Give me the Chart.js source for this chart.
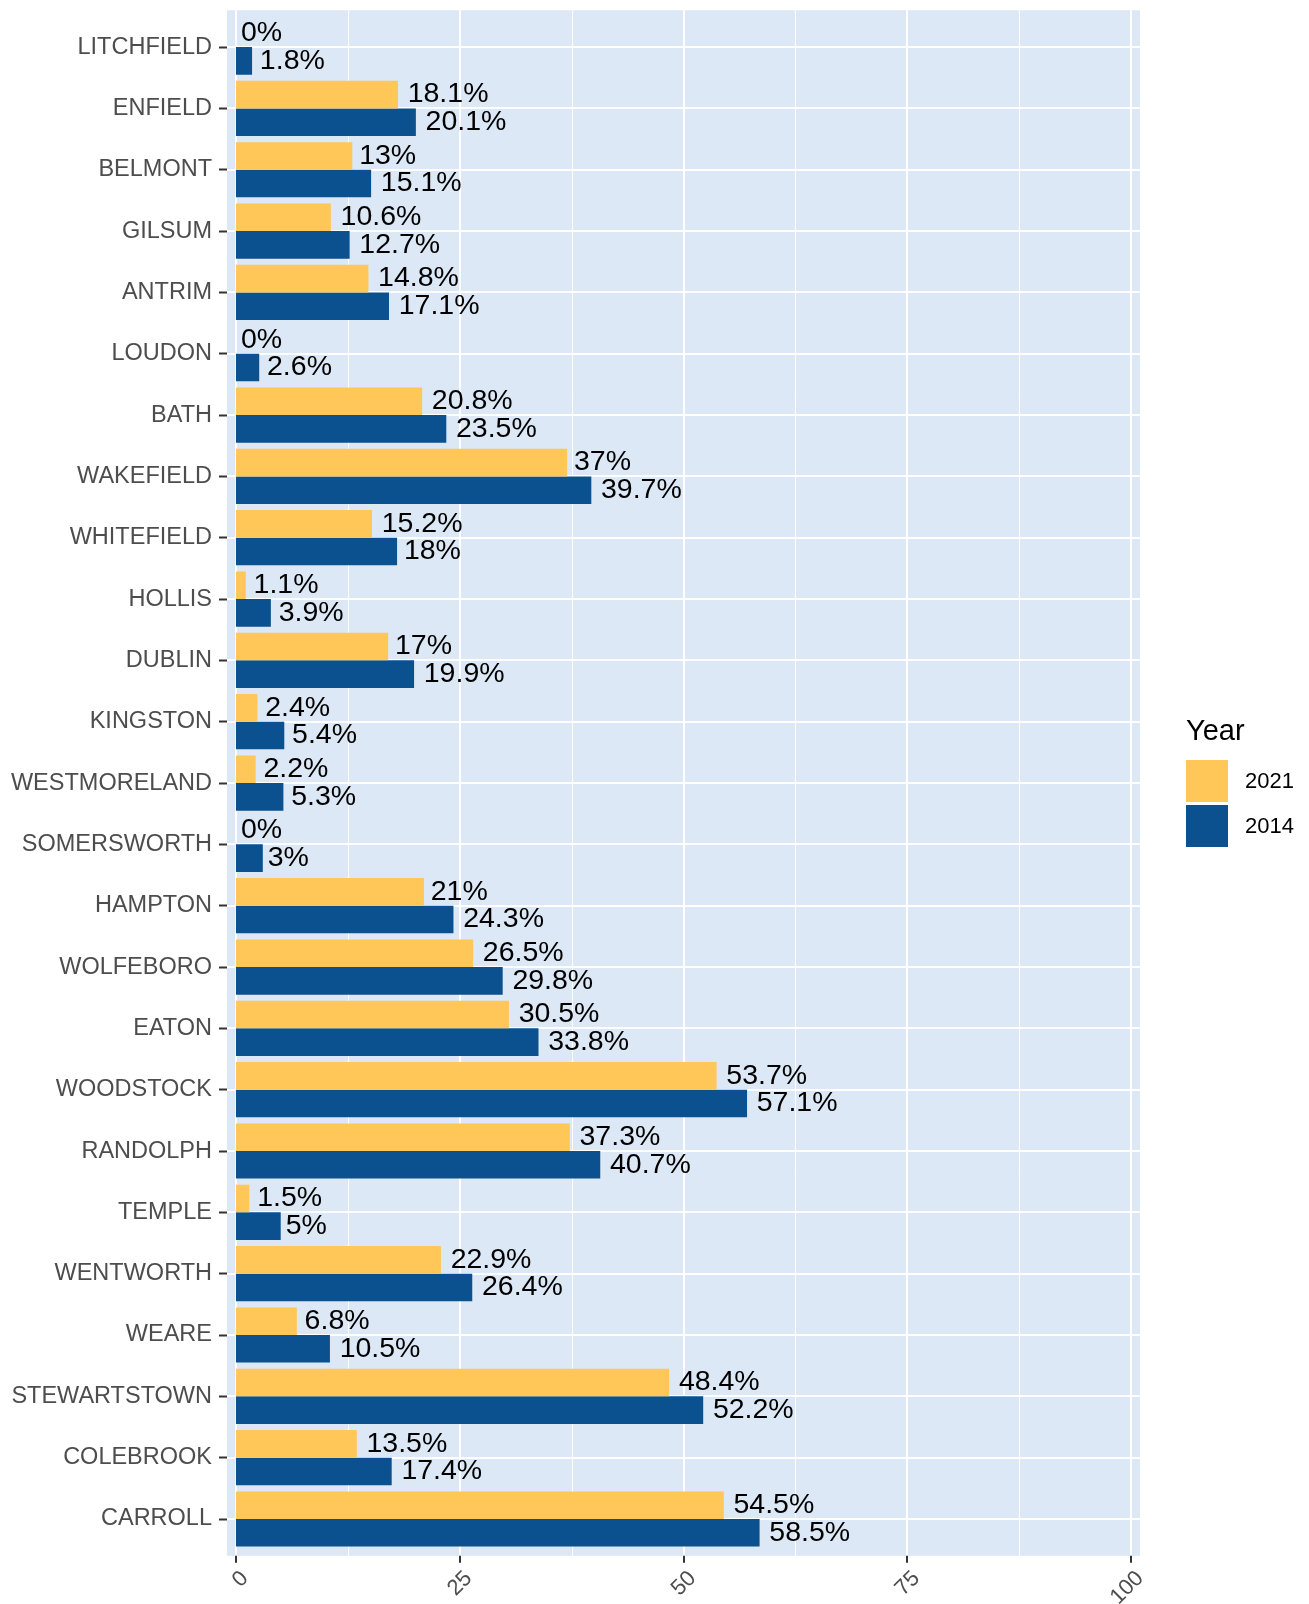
<!DOCTYPE html>
<html>
<head>
<meta charset="utf-8">
<script src="https://cdn.jsdelivr.net/npm/chart.js@4.4.1/dist/chart.umd.min.js"></script>
<style>
  html, body { margin: 0; padding: 0; background: #ffffff; }
  #wrap { position: relative; width: 1309px; height: 1604px; }
</style>
</head>
<body>
<div id="wrap"><canvas id="townChart"></canvas></div>
<script>
// Towns, top to bottom
const categories = [
    'LITCHFIELD', 'ENFIELD', 'BELMONT', 'GILSUM', 'ANTRIM', 'LOUDON', 'BATH',
    'WAKEFIELD', 'WHITEFIELD', 'HOLLIS', 'DUBLIN', 'KINGSTON', 'WESTMORELAND',
    'SOMERSWORTH', 'HAMPTON', 'WOLFEBORO', 'EATON', 'WOODSTOCK', 'RANDOLPH',
    'TEMPLE', 'WENTWORTH', 'WEARE', 'STEWARTSTOWN', 'COLEBROOK', 'CARROLL'
];

const values2021 = [
    0, 18.1, 13, 10.6, 14.8, 0, 20.8, 37, 15.2, 1.1, 17, 2.4, 2.2,
    0, 21, 26.5, 30.5, 53.7, 37.3, 1.5, 22.9, 6.8, 48.4, 13.5, 54.5
];

const values2014 = [
    1.8, 20.1, 15.1, 12.7, 17.1, 2.6, 23.5, 39.7, 18, 3.9, 19.9, 5.4, 5.3,
    3, 24.3, 29.8, 33.8, 57.1, 40.7, 5, 26.4, 10.5, 52.2, 17.4, 58.5
];

const xTicks = [0, 25, 50, 75, 100];
const xMinorTicks = [12.5, 37.5, 62.5, 87.5];

const FONT = '"Liberation Sans", Arial, Helvetica, sans-serif';
const PANEL_BG = '#DCE8F5';
const AXIS_TEXT = '#4D4D4D';

// ggplot-style panel: background, grid and the 0.6-category padding
const panelPlugin = {
    id: 'panel',
    beforeDraw(chart) {
        const { ctx, chartArea, scales } = chart;
        const step = (chartArea.bottom - chartArea.top) / categories.length;
        const top = chartArea.top - step * 0.1;
        const bottom = chartArea.bottom + step * 0.1;
        ctx.save();
        ctx.fillStyle = PANEL_BG;
        ctx.fillRect(chartArea.left, top, chartArea.right - chartArea.left, bottom - top);
        ctx.strokeStyle = '#ffffff';

        ctx.lineWidth = 1;
        xMinorTicks.forEach(v => {
            const px = Math.round(scales.x.getPixelForValue(v)) + 0.5;
            ctx.beginPath();
            ctx.moveTo(px, top);
            ctx.lineTo(px, bottom);
            ctx.stroke();
        });

        ctx.lineWidth = 2;
        xTicks.forEach(v => {
            const px = Math.round(scales.x.getPixelForValue(v));
            ctx.beginPath();
            ctx.moveTo(px, top);
            ctx.lineTo(px, bottom);
            ctx.stroke();
        });
        categories.forEach((c, i) => {
            const py = Math.round(scales.y.getPixelForValue(i));
            ctx.beginPath();
            ctx.moveTo(chartArea.left, py);
            ctx.lineTo(chartArea.right, py);
            ctx.stroke();
        });

        // x tick marks sit under the padded panel
        ctx.strokeStyle = '#333333';
        xTicks.forEach(v => {
            const px = Math.round(scales.x.getPixelForValue(v));
            ctx.beginPath();
            ctx.moveTo(px, bottom);
            ctx.lineTo(px, bottom + 7);
            ctx.stroke();
        });
        ctx.restore();
    }
};

// percentage labels just past the end of each bar
const valueLabelPlugin = {
    id: 'valueLabels',
    afterDatasetsDraw(chart) {
        const { ctx } = chart;
        ctx.save();
        ctx.font = '28.5px ' + FONT;
        ctx.fillStyle = '#000000';
        ctx.textAlign = 'left';
        ctx.textBaseline = 'alphabetic';
        chart.data.datasets.forEach((ds, di) => {
            chart.getDatasetMeta(di).data.forEach((bar, i) => {
                const text = ds.data[i] + '%';
                const w = ctx.measureText(text).width;
                ctx.fillText(text, bar.x + w * 0.12, bar.y + 7.7);
            });
        });
        ctx.restore();
    }
};

// legend box on the right, title "Year"
const legendPlugin = {
    id: 'yearLegend',
    afterDraw(chart) {
        const { ctx } = chart;
        ctx.save();
        ctx.fillStyle = '#000000';
        ctx.font = '29px ' + FONT;
        ctx.textAlign = 'left';
        ctx.textBaseline = 'alphabetic';
        ctx.fillText('Year', 1186, 740);

        ctx.font = '22px ' + FONT;
        ctx.textBaseline = 'middle';
        chart.data.datasets.forEach((ds, i) => {
            const top = 760 + i * 45;
            ctx.fillStyle = ds.backgroundColor;
            ctx.fillRect(1186, top, 42, 42);
            ctx.fillStyle = '#000000';
            ctx.fillText(ds.label, 1245, top + 22);
        });
        ctx.restore();
    }
};

const ctx = document.getElementById('townChart').getContext('2d');

new Chart(ctx, {
    type: 'bar',
    data: {
        labels: categories,
        datasets: [
            {
                label: '2021',
                data: values2021,
                backgroundColor: '#FFC658',
                borderWidth: 0,
                categoryPercentage: 0.9,
                barPercentage: 1.0
            },
            {
                label: '2014',
                data: values2014,
                backgroundColor: '#0B5190',
                borderWidth: 0,
                categoryPercentage: 0.9,
                barPercentage: 1.0
            }
        ]
    },
    options: {
        indexAxis: 'y',
        responsive: true,
        maintainAspectRatio: false,
        animation: false,
        layout: {
            padding: { top: 16.33, right: 169, bottom: 0, left: 0 }
        },
        plugins: {
            legend: { display: false },
            title: { display: false },
            tooltip: { enabled: false }
        },
        scales: {
            x: {
                type: 'linear',
                position: 'bottom',
                min: -1,
                max: 101,
                afterBuildTicks: scale => {
                    scale.ticks = xTicks.map(v => ({ value: v }));
                },
                afterFit: scale => {
                    scale.height = 54.33;
                },
                grid: { display: false },
                border: { display: false },
                ticks: {
                    autoSkip: false,
                    minRotation: 45,
                    maxRotation: 45,
                    padding: 8,
                    labelOffset: 9,
                    color: AXIS_TEXT,
                    font: { family: FONT, size: 22 }
                }
            },
            y: {
                type: 'category',
                offset: true,
                afterFit: scale => {
                    scale.width = 227;
                },
                grid: {
                    offset: false,
                    drawOnChartArea: false,
                    drawTicks: true,
                    tickLength: 8,
                    tickWidth: 2,
                    tickColor: '#333333'
                },
                border: { display: false },
                ticks: {
                    autoSkip: false,
                    padding: 7,
                    color: AXIS_TEXT,
                    // small line height keeps the label padding inside the top margin
                    font: { family: FONT, size: 23.5, lineHeight: 0.8 }
                }
            }
        }
    },
    plugins: [panelPlugin, valueLabelPlugin, legendPlugin]
});
</script>
</body>
</html>
